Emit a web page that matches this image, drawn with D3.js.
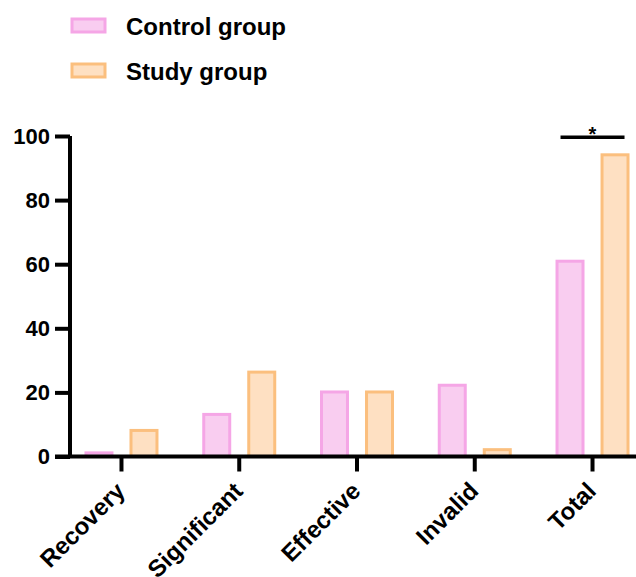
<!DOCTYPE html>
<html lang="en">
<head>
  <meta charset="UTF-8">
  <title>Control vs study group</title>
  <script src="https://d3js.org/d3.v7.min.js"></script>
  <style>
    body { margin: 0; background: #fff; }
    text { font-family: "Liberation Sans", Arial, sans-serif; font-weight: bold; fill: #000; }
  </style>
</head>
<body>
  <svg id="chart" width="636" height="577"></svg>

  <script>
    const categories = ["Recovery", "Significant", "Effective", "Invalid", "Total"];
    const controlValues = [1.6, 13.6, 20.6, 22.7, 61.4];
    const studyValues = [8.6, 26.8, 20.6, 2.6, 94.6];
    const yTicks = [0, 20, 40, 60, 80, 100];

    const groups = [
      { key: "control", label: "Control group", values: controlValues, fill: "#f9cdf0", stroke: "#f5a6e6" },
      { key: "study", label: "Study group", values: studyValues, fill: "#fee0c2", stroke: "#fbbf7e" }
    ];

    const svg = d3.select("#chart");
    const axisX = 70;
    const baseY = 456.5;

    const y = d3.scaleLinear().domain([0, 100]).range([baseY, 136]);
    const x = d3.scaleBand().domain(categories).range([62.6, 651.4]).padding(0);
    const inner = d3.scaleBand().domain(groups.map(g => g.key)).range([-37, 37]).paddingInner(0.356);

    // bars
    groups.forEach(g => {
      svg.append("g").selectAll("rect")
        .data(categories)
        .join("rect")
        .attr("x", c => x(c) + x.bandwidth() / 2 + inner(g.key) + 1.5)
        .attr("y", (c, i) => y(g.values[i]) + 1.5)
        .attr("width", inner.bandwidth() - 3)
        .attr("height", (c, i) => Math.max(0, baseY - y(g.values[i]) - 1.5))
        .attr("fill", g.fill)
        .attr("stroke", g.stroke)
        .attr("stroke-width", 3);
    });

    // y axis
    const yAxis = svg.append("g")
      .attr("transform", `translate(${axisX},0)`)
      .call(d3.axisLeft(y).tickValues(yTicks).tickSize(15).tickPadding(5));
    yAxis.select(".domain").attr("d", `M0,${y(100)}V${baseY}`).attr("stroke-width", 4).attr("stroke", "#000");
    yAxis.selectAll(".tick line").attr("stroke-width", 4).attr("stroke", "#000");
    yAxis.selectAll(".tick text").attr("font-size", 22).style("font-family", "'Liberation Sans', Arial, sans-serif").style("font-weight", "bold");

    // x axis
    const xAxis = svg.append("g")
      .attr("transform", `translate(0,${baseY})`)
      .call(d3.axisBottom(x).tickSize(15).tickFormat(""));
    xAxis.select(".domain").attr("d", `M${axisX - 15},0H636`).attr("stroke-width", 4).attr("stroke", "#000");
    xAxis.selectAll(".tick line").attr("stroke-width", 4).attr("stroke", "#000");

    svg.append("g").selectAll("text")
      .data(categories)
      .join("text")
      .attr("transform", c => `translate(${x(c) + x.bandwidth() / 2 + 5},${baseY + 36}) rotate(-45)`)
      .attr("text-anchor", "end")
      .attr("font-size", 24)
      .text(c => c);

    // significance marker on Total
    const totalC = x("Total") + x.bandwidth() / 2;
    svg.append("line")
      .attr("x1", totalC - 32).attr("x2", totalC + 32)
      .attr("y1", y(99.6)).attr("y2", y(99.6))
      .attr("stroke", "#000").attr("stroke-width", 3.5);
    svg.append("text")
      .attr("x", totalC).attr("y", y(99.6) + 4)
      .attr("text-anchor", "middle")
      .attr("font-size", 20)
      .text("*");

    // legend
    const legend = svg.append("g").selectAll("g")
      .data(groups)
      .join("g")
      .attr("transform", (g, i) => `translate(72,${19 + i * 45})`);
    legend.append("rect")
      .attr("width", 33).attr("height", 13)
      .attr("fill", g => g.fill).attr("stroke", g => g.stroke).attr("stroke-width", 3);
    legend.append("text")
      .attr("x", 54).attr("y", 15.5)
      .attr("font-size", 24)
      .text(g => g.label);
  </script>
</body>
</html>
